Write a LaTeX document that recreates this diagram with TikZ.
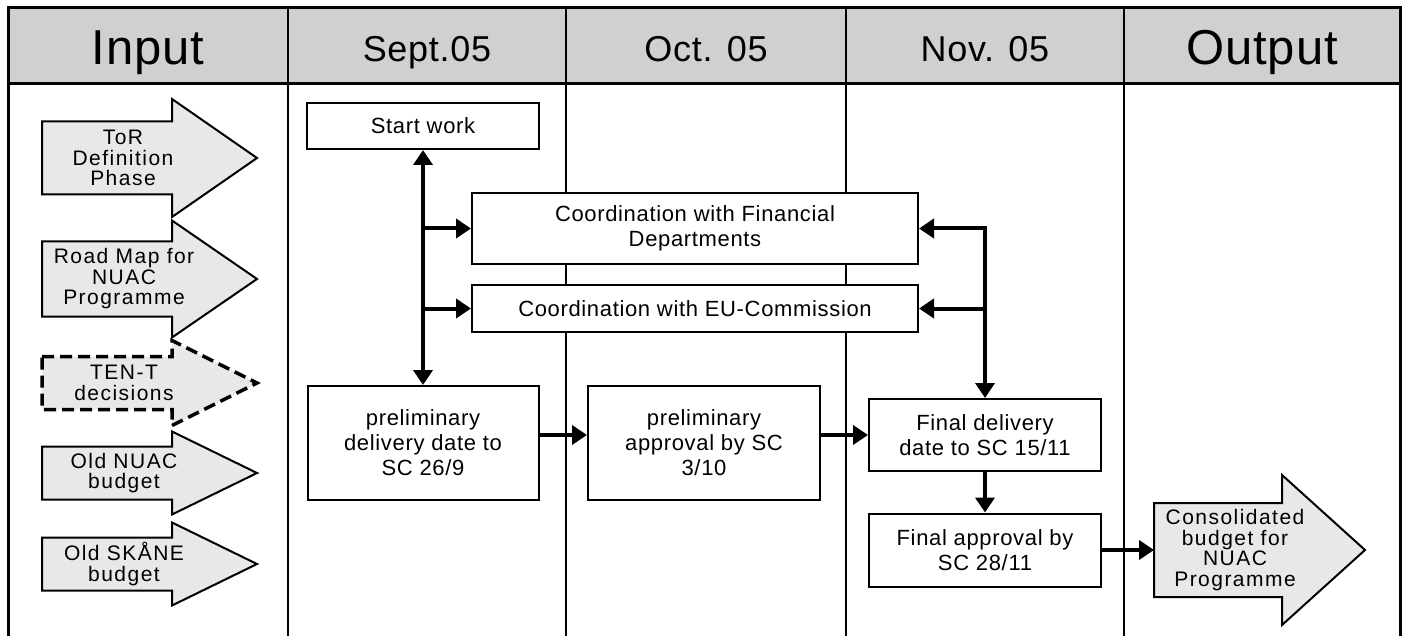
\documentclass[tikz,border=0pt]{standalone}
\usepackage{fontspec}
\setmainfont{Liberation Sans}
\usetikzlibrary{arrows.meta}
\newfontfamily\boxfont[LetterSpace=3]{Liberation Sans}
\newfontfamily\arrfont[LetterSpace=7]{Liberation Sans}
\newfontfamily\headfont[LetterSpace=2]{Liberation Sans}
\definecolor{headgray}{HTML}{D0D0D0}
\definecolor{arrgray}{HTML}{E8E8E8}
\newcommand\fatarrow[7]{%
  \draw[#1] (#2,{#5-#6}) -- (#3,{#5-#6}) -- (#3,{#5-#7}) -- (#4,#5) -- (#3,{#5+#7}) -- (#3,{#5+#6}) -- (#2,{#5+#6}) -- cycle;}
\tikzset{
  x=1pt, y=-1pt,
  frameline/.style={line width=3pt},
  colline/.style={line width=2.8pt},
  box/.style={draw, fill=white, line width=2pt, inner sep=0pt, align=center,
    font=\boxfont\fontsize{22}{25}\selectfont},
  conn/.style={line width=4pt, -{Triangle[width=19pt,length=15pt]}},
  dconn/.style={line width=4pt, {Triangle[width=19pt,length=15pt]}-{Triangle[width=19pt,length=15pt]}},
  arrshape/.style={draw, line width=2pt, fill=arrgray, line join=miter},
  arrdashed/.style={draw, line width=3.5pt, fill=arrgray, dash pattern=on 12pt off 6pt},
  arrtext/.style={inner sep=0pt, align=center, font=\arrfont\fontsize{21}{20.5}\selectfont},
  bighead/.style={anchor=base, inner sep=0pt, font=\headfont\fontsize{49}{49}\selectfont},
  smallhead/.style={anchor=base, inner sep=0pt, font=\headfont\fontsize{36}{36}\selectfont},
}
\begin{document}
\begin{tikzpicture}
\useasboundingbox (0,0) rectangle (1404,636);
% header
\fill[headgray] (8,8) rectangle (1400,84);
\draw[frameline] (8,645) -- (8,8) -- (1400,8) -- (1400,645);
\draw[frameline] (8,84) -- (1400,84);
\foreach \cx in {288,566,846,1124} \draw[colline] (\cx,8) -- (\cx,645);
\node[bighead] (hin) at (148,65) {Input};
\node[smallhead] (hsep) at (427,62) {Sept.05};
\node[smallhead] (hoct) at (706,62) {Oct. 05};
\node[smallhead] (hnov) at (985,62) {Nov. 05};
\node[bighead] (hout) at (1262,65) {Output};
% input arrows
\fatarrow{arrshape}{42}{172}{257}{158}{36.5}{59}
\node[arrtext] (tor) at (123,158) {ToR\\Definition\\Phase};
\fatarrow{arrshape}{42}{172}{257}{279}{37.5}{58.5}
\node[arrtext] (road) at (124,279) {Road Map for\\NUAC\\Programme};
\fatarrow{arrdashed}{42}{172}{257}{383}{26.5}{42.5}
\node[arrtext] (tent) at (124,383) {TEN-T\\decisions};
\fatarrow{arrshape}{42}{172}{257}{473}{26.5}{41.5}
\node[arrtext] (onuac) at (124,473) {Old NUAC\\budget};
\fatarrow{arrshape}{42}{172}{257}{564}{26.5}{41.5}
\node[arrtext] (oskane) at (124,564) {Old SKÅNE\\budget};
% output arrow
\fatarrow{arrshape}{1154}{1282}{1365}{550}{47}{75}
\node[arrtext] (cons) at (1235,550) {Consolidated\\budget for\\NUAC\\Programme};
\coordinate (consL) at (1154,550);
% boxes
\node[box, minimum width=232pt, minimum height=46pt] (sw) at (423,126) {Start work};
\node[box, minimum width=446pt, minimum height=71pt] (fin) at (695,228.5) {Coordination with Financial\\Departments};
\node[box, minimum width=446pt, minimum height=47pt] (eu) at (695,308.5) {Coordination with EU-Commission};
\node[box, minimum width=231pt, minimum height=114pt] (pd) at (423,443) {preliminary\\delivery date to\\SC 26/9};
\node[box, minimum width=232pt, minimum height=114pt] (pa) at (704,443) {preliminary\\approval by SC\\3/10};
\node[box, minimum width=232pt, minimum height=72pt] (fd) at (985,435) {Final delivery\\date to SC 15/11};
\node[box, minimum width=232pt, minimum height=73pt] (fa) at (985,550) {Final approval by\\SC 28/11};
% connectors
\draw[dconn] (sw.south) -- (pd.north);
\coordinate (j1) at (sw.south |- fin.west);
\coordinate (j2) at (sw.south |- eu.west);
\draw[conn] (j1) -- (fin.west);
\draw[conn] (j2) -- (eu.west);
\draw[dconn] (fin.east) -| (fd.north);
\coordinate (r2) at (fd.north |- eu.east);
\draw[conn] (r2) -- (eu.east);
\draw[conn] (pd.east |- fd.west) -- (pa.west |- fd.west);
\draw[conn] (pa.east |- fd.west) -- (fd.west);
\draw[conn] (fd.south) -- (fa.north);
\draw[conn] (fa.east) -- (fa.east -| consL);
\end{tikzpicture}
\end{document}
